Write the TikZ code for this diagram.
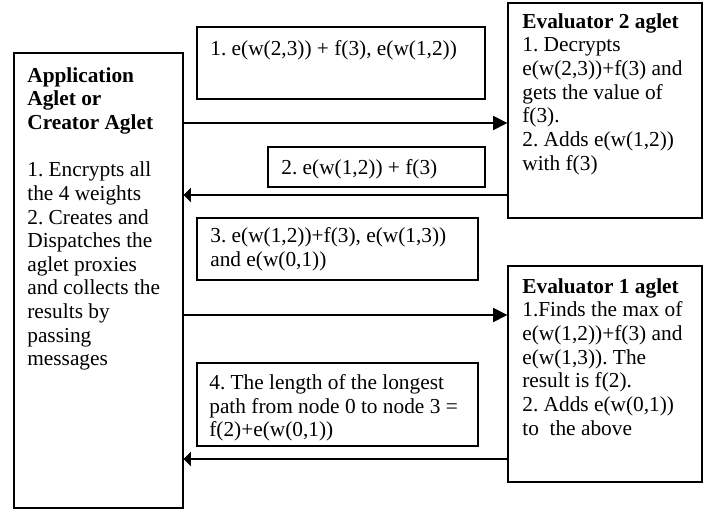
\documentclass[tikz,border=0pt]{standalone}
\usepackage{fontspec}
\setmainfont{Liberation Serif}
\frenchspacing
\usetikzlibrary{arrows.meta,fit}
\tikzset{
	box/.style={draw, line width=0.8pt, inner sep=0pt},
	txt/.style={anchor=north west, inner sep=0pt, align=left, font=\fontsize{12}{13.3}\selectfont},
	fwd/.style={line width=0.8pt, -{Triangle[length=8pt,width=8pt]}},
	back/.style={line width=0.8pt, -{Triangle[length=4pt,width=8pt]}},
}
\begin{document}
\begin{tikzpicture}[x=0.5625pt, y=-0.5625pt]
		\useasboundingbox (0,0) rectangle (710,510);

		% Application / Creator Aglet
		\node[box, fit={(14,53) (183,508)}] (app) {};
		\node[txt] (apptxt) at (27,67) {\textbf{Application}\\\textbf{Aglet or}\\\textbf{Creator Aglet}\\[13.3pt]
			1. Encrypts all\\the 4 weights\\2. Creates and\\Dispatches the\\aglet proxies\\and collects the\\results by\\passing\\messages};

		% Evaluator 2 aglet
		\node[box, fit={(508,3) (702,218)}] (evaltwo) {};
		\node[txt] (evaltwotxt) at (522,13) {\textbf{Evaluator 2 aglet}\\1. Decrypts\\e(w(2,3))+f(3) and\\gets the value of\\f(3).\\2. Adds e(w(1,2))\\with f(3)};

		% Evaluator 1 aglet
		\node[box, fit={(508,266) (702,482)}] (evalone) {};
		\node[txt] (evalonetxt) at (522,278) {\textbf{Evaluator 1 aglet}\\1.Finds the max of\\e(w(1,2))+f(3) and\\e(w(1,3)). The\\result is f(2).\\2. Adds e(w(0,1))\\to~ the above};

		% Messages
		\node[box, fit={(197,27) (485,99)}] (msgone) {};
		\node[txt] (msgonetxt) at (210,40) {1. e(w(2,3)) + f(3), e(w(1,2))};
		\node[box, fit={(268,147) (485,187)}] (msgtwo) {};
		\node[txt] (msgtwotxt) at (281,159) {2. e(w(1,2)) + f(3)};
		\node[box, fit={(197,218) (478,280)}] (msgthree) {};
		\node[txt] (msgthreetxt) at (210,227) {3. e(w(1,2))+f(3), e(w(1,3))\\and e(w(0,1))};
		\node[box, fit={(197,363) (478,446)}] (msgfour) {};
		\node[txt] (msgfourtxt) at (209,374) {4. The length of the longest\\path from node 0 to node 3 =\\f(2)+e(w(0,1))};

		% Connections
		\coordinate (yone) at (0,123);
		\coordinate (ytwo) at (0,195);
		\coordinate (ythree) at (0,315);
		\coordinate (yfour) at (0,459);
		\draw[fwd] (app.east |- yone) -- (evaltwo.west |- yone);
		\draw[back] (evaltwo.west |- ytwo) -- (app.east |- ytwo);
		\draw[fwd] (app.east |- ythree) -- (evalone.west |- ythree);
		\draw[back] (evalone.west |- yfour) -- (app.east |- yfour);
\end{tikzpicture}
\end{document}
